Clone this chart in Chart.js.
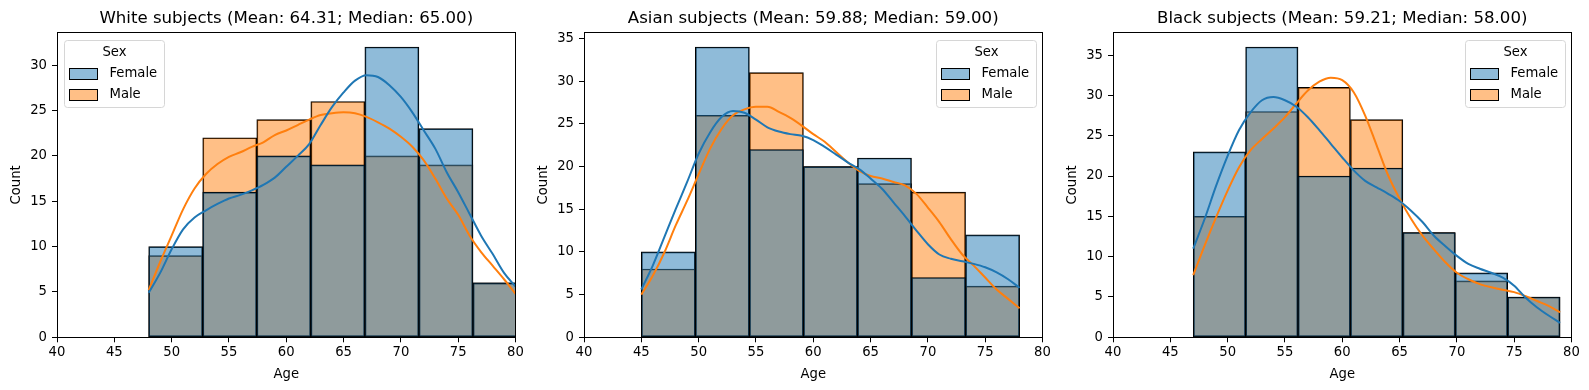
<!DOCTYPE html>
<html>
<head>
<meta charset="utf-8">
<script src="https://cdn.jsdelivr.net/npm/chart.js@4.4.1/dist/chart.umd.min.js"></script>
<style>
  html, body { margin: 0; padding: 0; background: #fff; }
  #wrap { position: relative; width: 1589px; height: 390px; overflow: hidden; background: #fff; }
  .panel { position: absolute; top: 0; width: 530px; height: 390px; }
</style>
</head>
<body>
<div id="wrap">
  <div class="panel" style="left:0px"><canvas id="white"></canvas></div>
  <div class="panel" style="left:527px"><canvas id="asian"></canvas></div>
  <div class="panel" style="left:1056px"><canvas id="black"></canvas></div>
</div>
<script>
// tick labels
const ageTicks = [40, 45, 50, 55, 60, 65, 70, 75, 80];
const countTicks = [0, 5, 10, 15, 20, 25, 30, 35];
const legendTitle = 'Sex';
const legendLabels = ['Female', 'Male'];

// histogram bins (edges) and counts per sex
const whiteEdges = [48, 52.71, 57.43, 62.14, 66.86, 71.57, 76.29, 81];
const whiteFemale = [10, 16, 20, 19, 32, 23, 6];
const whiteMale = [9, 22, 24, 26, 20, 19, 6];

const asianEdges = [45, 49.71, 54.43, 59.14, 63.86, 68.57, 73.29, 78];
const asianFemale = [10, 34, 22, 20, 21, 7, 12];
const asianMale = [8, 26, 31, 20, 18, 17, 6];

const blackEdges = [47, 51.57, 56.14, 60.71, 65.29, 69.86, 74.43, 79];
const blackFemale = [23, 36, 20, 21, 13, 8, 5];
const blackMale = [15, 28, 31, 27, 13, 7, 5];

// kde curves at whole years
const whiteKdeAge = [48, 49, 50, 51, 52, 53, 54, 55, 56, 57, 58, 59, 60, 61, 62, 63, 64, 65, 66, 67, 68, 69, 70, 71, 72, 73, 74, 75, 76, 77, 78, 79, 80];
const whiteKdeFemale = [4.9, 7.1, 9.7, 11.9, 13.2, 14.0, 14.7, 15.3, 15.7, 16.2, 16.8, 17.6, 18.8, 20.0, 21.3, 23.4, 25.4, 27.0, 28.3, 28.9, 28.7, 27.8, 26.5, 24.8, 22.8, 20.8, 18.2, 16.0, 13.6, 11.2, 9.2, 7.1, 5.6];
const whiteKdeMale = [5.2, 8.3, 11.2, 14.1, 16.4, 18.0, 19.1, 19.9, 20.4, 21.0, 21.5, 22.3, 22.8, 23.4, 24.0, 24.5, 24.7, 24.8, 24.7, 24.3, 23.7, 23.0, 22.1, 21.0, 19.5, 17.5, 15.3, 13.5, 11.2, 9.4, 7.9, 6.4, 4.8];

const asianKdeAge = [45, 46, 47, 48, 49, 50, 51, 52, 53, 54, 55, 56, 57, 58, 59, 60, 61, 62, 63, 64, 65, 66, 67, 68, 69, 70, 71, 72, 73, 74, 75, 76, 77, 78];
const asianKdeFemale = [5.6, 8.4, 11.7, 15.0, 18.2, 21.5, 24.0, 25.8, 26.5, 26.3, 25.5, 24.6, 24.1, 23.8, 23.6, 23.1, 22.3, 21.4, 20.5, 19.7, 18.6, 17.4, 15.8, 14.2, 12.5, 10.9, 9.7, 9.2, 8.9, 8.6, 8.2, 7.6, 6.8, 5.8];
const asianKdeMale = [5.0, 7.2, 9.9, 13.1, 16.0, 19.1, 22.1, 24.4, 26.0, 26.7, 27.0, 27.0, 26.4, 25.7, 24.8, 23.8, 22.9, 21.7, 20.5, 19.5, 18.9, 18.6, 18.2, 17.8, 16.8, 15.2, 13.5, 11.5, 9.7, 8.4, 7.0, 5.6, 4.5, 3.4];

const blackKdeAge = [47, 48, 49, 50, 51, 52, 53, 54, 55, 56, 57, 58, 59, 60, 61, 62, 63, 64, 65, 66, 67, 68, 69, 70, 71, 72, 73, 74, 75, 76, 77, 78, 79];
const blackKdeFemale = [11.0, 14.7, 18.8, 22.5, 25.7, 27.9, 29.4, 29.8, 29.4, 28.6, 27.3, 25.7, 24.0, 22.3, 20.7, 19.4, 18.6, 17.8, 16.9, 15.7, 14.3, 12.6, 11.3, 10.1, 9.1, 8.5, 8.0, 7.4, 6.4, 4.9, 3.7, 2.7, 1.8];
const blackKdeMale = [7.7, 11.4, 14.9, 18.2, 21.1, 23.2, 24.6, 25.9, 27.3, 29.0, 30.6, 31.7, 32.2, 31.9, 30.4, 27.5, 23.8, 20.1, 17.2, 14.7, 12.6, 10.9, 9.3, 8.0, 7.2, 6.6, 6.2, 5.9, 5.6, 5.1, 4.5, 3.9, 3.1];

const FONT = "'DejaVu Sans', sans-serif";
const BLUE = '#1f77b4';
const ORANGE = '#ff7f0e';
const BLUE_FILL = 'rgba(31, 119, 180, 0.5)';
const ORANGE_FILL = 'rgba(255, 127, 14, 0.5)';

Chart.defaults.font.family = FONT;
Chart.defaults.font.size = 13.2;
Chart.defaults.color = '#000';

// matplotlib style box round the axes
const axesFrame = {
  id: 'axesFrame',
  afterDatasetsDraw(chart) {
    const { ctx, chartArea: a } = chart;
    const l = Math.floor(a.left) + 0.5, r = Math.floor(a.right) + 0.5;
    const t = Math.floor(a.top) + 0.5, b = Math.floor(a.bottom) + 0.5;
    ctx.save();
    ctx.strokeStyle = '#000';
    ctx.lineWidth = 1;
    ctx.strokeRect(l, t, r - l, b - t);
    ctx.restore();
  }
};

// legend inside the axes with a title and a frame
const sexLegend = {
  id: 'sexLegend',
  afterDraw(chart, args, opts) {
    const { ctx, chartArea } = chart;
    const w = 100, h = 67;
    const x = Math.round(opts.side === 'left' ? chartArea.left + 7 : chartArea.right - 7 - w) + 0.5;
    const y = Math.round(chartArea.top + 7) + 0.5;
    const fills = [BLUE_FILL, ORANGE_FILL];
    ctx.save();
    ctx.beginPath();
    ctx.roundRect(x, y, w, h, 3);
    ctx.fillStyle = 'rgba(255, 255, 255, 0.8)';
    ctx.fill();
    ctx.strokeStyle = '#d6d6d6';
    ctx.lineWidth = 1;
    ctx.stroke();
    ctx.font = '13.2px ' + FONT;
    ctx.textBaseline = 'middle';
    ctx.textAlign = 'center';
    ctx.fillStyle = '#000';
    ctx.fillText(legendTitle, x + w / 2, y + 12);
    ctx.textAlign = 'left';
    legendLabels.forEach((label, i) => {
      const cy = Math.round(y + 33 + i * 21);
      ctx.fillStyle = fills[i];
      ctx.fillRect(x + 5, cy - 5.5, 28, 11);
      ctx.strokeStyle = '#000';
      ctx.strokeRect(x + 5, cy - 5.5, 28, 11);
      ctx.fillStyle = '#000';
      ctx.fillText(label, x + 45, cy);
    });
    ctx.restore();
  }
};

function barData(edges, counts) {
  return counts.map((n, i) => ({ x: (edges[i] + edges[i + 1]) / 2, y: n }));
}

function kdeData(ages, values) {
  return ages.map((a, i) => ({ x: a, y: values[i] }));
}

function makeChart(id, title, side, edges, female, male, kdeAge, kdeFemale, kdeMale) {
  const ymax = Math.max(...female, ...male) * 1.05;
  const bar = (label, data, fill) => ({
    type: 'bar', label, data, backgroundColor: fill,
    borderColor: '#000', borderWidth: 1, borderSkipped: false,
    grouped: false, barPercentage: 1, categoryPercentage: 1, order: 1, clip: 0
  });
  const line = (label, data, color) => ({
    type: 'line', label, data, borderColor: color, borderWidth: 2,
    pointRadius: 0, fill: false, cubicInterpolationMode: 'monotone', order: 0, clip: 0
  });

  return new Chart(document.getElementById(id), {
    type: 'bar',
    data: {
      datasets: [
        bar('Female', barData(edges, female), BLUE_FILL),
        bar('Male', barData(edges, male), ORANGE_FILL),
        line('Female kde', kdeData(kdeAge, kdeFemale), BLUE),
        line('Male kde', kdeData(kdeAge, kdeMale), ORANGE),
      ]
    },
    options: {
      responsive: true,
      maintainAspectRatio: false,
      animation: false,
      events: [],
      layout: { padding: { left: 0, right: 14.5, top: 0, bottom: 0 } },
      scales: {
        x: {
          type: 'linear', min: 40, max: 80, offset: false,
          afterBuildTicks: (scale) => { scale.ticks = ageTicks.map(v => ({ value: v })); },
          afterFit: (scale) => {
            scale.height = 52.7;
            scale.paddingLeft = 0;
            scale.paddingRight = 0;
          },
          ticks: { padding: 2, maxRotation: 0, autoSkip: false, color: '#000' },
          grid: { offset: false, drawOnChartArea: false, tickLength: 5, tickColor: '#000' },
          border: { display: false },
          title: { display: true, text: 'Age', padding: { top: 0, bottom: 8 }, color: '#000' }
        },
        y: {
          type: 'linear', min: 0, max: ymax,
          afterBuildTicks: (scale) => { scale.ticks = countTicks.filter(v => v <= ymax).map(v => ({ value: v })); },
          afterFit: (scale) => {
            scale.width = 57;
            scale.paddingTop = 0;
            scale.paddingBottom = 0;
          },
          ticks: { padding: 5, color: '#000' },
          grid: { drawOnChartArea: false, tickLength: 5, tickColor: '#000' },
          border: { display: false },
          title: { display: true, text: 'Count', padding: { top: 9, bottom: 0 }, color: '#000' }
        }
      },
      plugins: {
        legend: { display: false },
        tooltip: { enabled: false },
        title: {
          display: true, text: title, fullSize: false, color: '#000',
          font: { size: 16.6, weight: 'normal' },
          padding: { top: 9.2, bottom: 3.4 }
        },
        sexLegend: { side }
      }
    },
    plugins: [axesFrame, sexLegend]
  });
}

makeChart('white', 'White subjects (Mean: 64.31; Median: 65.00)', 'left',
  whiteEdges, whiteFemale, whiteMale, whiteKdeAge, whiteKdeFemale, whiteKdeMale);
makeChart('asian', 'Asian subjects (Mean: 59.88; Median: 59.00)', 'right',
  asianEdges, asianFemale, asianMale, asianKdeAge, asianKdeFemale, asianKdeMale);
makeChart('black', 'Black subjects (Mean: 59.21; Median: 58.00)', 'right',
  blackEdges, blackFemale, blackMale, blackKdeAge, blackKdeFemale, blackKdeMale);
</script>
</body>
</html>
